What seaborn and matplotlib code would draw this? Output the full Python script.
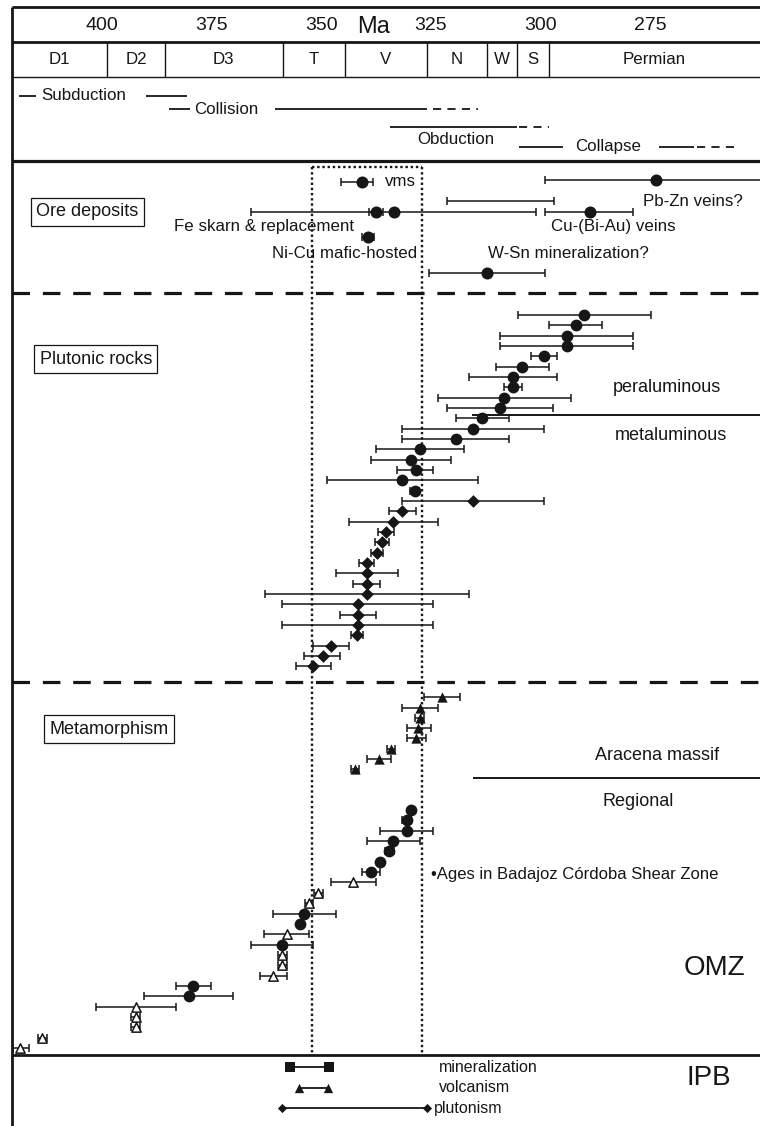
import numpy as np
import pandas as pd
import seaborn as sns
import matplotlib.pyplot as plt

sns.set_theme(style="white")
plt.rcParams['font.family'] = ['Liberation Sans', 'DejaVu Sans']

INK = '#161616'

# ---- header -------------------------------------------------------------
age_ticks = [400, 375, 350, 325, 300, 275]
stage_names = ['D1', 'D2', 'D3', 'T', 'V', 'N', 'W', 'S', 'Permian']
stage_edges = [420.5, 398.9, 385.6, 358.8, 344.6, 325.9, 312.2, 305.3, 298.1, 249.9]

# tectonic events (Ma): solid pieces, dashed tail, label anchor
subduction_solid = [(418.9, 415.1), (390.0, 380.6)]
collision_solid = [(384.7, 379.9), (360.5, 325.9)]
collision_dash = (324.5, 314.2)
obduction_solid = [(334.3, 305.3)]
obduction_dash = (304.9, 298.0)
collapse_solid = [(304.9, 294.8), (272.9, 265.0)]
collapse_dash = (264.3, 254.5)

# ---- ore deposits (age, older bound, younger bound) ----------------------
ore_age = [340.7, 273.6, 309.2, 337.5, 333.3, 288.7, 339.4, 312.2]
ore_old = [345.5, 298.9, 321.4, 339.2, 365.9, 298.9, 340.8, 325.3]
ore_young = [338.2, 240.0, 297.0, 335.8, 300.9, 278.8, 338.0, 298.9]
ore_dot = [True, True, False, True, True, True, True, True]

# ---- plutonic rocks -----------------------------------------------------
pluton_age = [290.0, 291.9, 294.0, 294.0, 299.2, 304.2, 306.2, 306.2, 308.2, 309.2,
              313.3, 315.3, 319.3, 327.5, 329.5, 328.4, 331.5, 328.7,
              315.3, 331.5, 333.6, 335.3, 336.1, 337.3, 339.6, 339.6, 339.6, 339.6,
              341.7, 341.7, 341.7, 341.9, 347.7, 349.7, 351.8]
pluton_old = [305.2, 298.0, 309.3, 309.3, 302.1, 310.2, 316.3, 308.2, 323.3, 321.3,
              319.3, 331.5, 331.5, 337.6, 338.6, 332.6, 348.6, 329.7,
              331.5, 334.5, 343.7, 337.1, 337.8, 338.6, 341.3, 346.6, 342.7, 362.9,
              358.9, 345.7, 358.9, 343.2, 351.8, 353.9, 355.8]
pluton_young = [274.8, 286.0, 278.9, 278.9, 296.1, 298.0, 296.1, 304.2, 293.0, 297.1,
                307.2, 299.1, 307.2, 317.4, 320.4, 324.4, 314.2, 327.7,
                299.2, 328.4, 323.3, 333.3, 334.5, 335.9, 337.9, 332.5, 336.6, 316.3,
                324.4, 337.5, 324.4, 340.4, 343.7, 345.7, 347.7]
pluton_kind = ['peraluminous'] * 18 + ['metaluminous'] * 17

# ---- metamorphism: Aracena massif ---------------------------------------
aracena_age = [322.4, 327.5, 327.5, 327.9, 328.4, 334.1, 336.8, 342.3]
aracena_old = [326.5, 331.5, 328.5, 330.4, 330.4, 335.1, 339.6, 343.3]
aracena_young = [318.3, 323.4, 326.5, 325.0, 326.2, 333.1, 334.1, 341.3]

# ---- metamorphism: regional (circle = Badajoz-Cordoba Shear Zone) -------
regional_age = [329.6, 330.5, 330.5, 333.6, 334.5, 336.6, 338.6, 342.7, 350.7, 352.8,
                353.9, 354.8, 357.9, 358.9, 358.9, 358.9, 360.9, 379.2, 380.2, 392.3,
                392.3, 392.3, 413.6, 418.7]
regional_old = [329.6, 331.5, 336.6, 339.6, 335.5, 336.6, 340.6, 347.8, 351.7, 353.8,
                360.9, 354.8, 363.0, 366.0, 359.9, 359.9, 364.0, 383.2, 390.4, 401.4,
                393.3, 393.3, 414.6, 420.2]
regional_young = [329.6, 329.5, 324.4, 327.5, 333.5, 336.6, 336.6, 337.6, 349.7, 351.8,
                  346.7, 354.8, 352.8, 351.8, 357.9, 357.9, 357.9, 375.1, 370.1, 383.2,
                  391.3, 391.3, 412.6, 416.7]
regional_kind = ['bcsz'] * 7 + ['omz', 'omz', 'omz', 'bcsz', 'bcsz', 'omz', 'bcsz',
                                'omz', 'omz', 'omz', 'bcsz', 'bcsz', 'omz', 'omz', 'omz',
                                'omz', 'omz']

# ---- IPB ----------------------------------------------------------------
ipb_names = ['mineralization', 'volcanism', 'plutonism']
ipb_old = [357.2, 355.0, 359.0]
ipb_young = [348.3, 348.5, 325.9]

dotted_box = (352.2, 327.0)

# ---- layout (pixel rows) -------------------------------------------------
X_LEFT, X_RIGHT = 420.5, 249.9
ore_y = [182, 180, 201, 212, 212, 212, 237, 273]
pluton_y = 315 + 10.33 * np.arange(len(pluton_age))
aracena_y = 697.3 + 10.24 * np.arange(len(aracena_age))
regional_y = 810 + 10.35 * np.arange(len(regional_age))
ipb_y = [1067, 1087.5, 1108]

fig = plt.figure(figsize=(7.6, 11.26), dpi=100)
ax = fig.add_axes([0, 0, 1, 1])
ax.set_xlim(423.27, 249.9)
ax.set_ylim(1126, 0)
ax.axis('off')

FS = 12.2


def bars(age, old, young, y, capsize=3.0):
    age, old, young, y = map(np.asarray, (age, old, young, y))
    keep = old != young
    ax.errorbar(age[keep], y[keep],
                xerr=[age[keep] - young[keep], old[keep] - age[keep]],
                fmt='none', ecolor=INK, elinewidth=1.1, capsize=capsize,
                capthick=1.1, zorder=2)


def dots(age, y, marker, s, fill=INK, lw=0.0):
    df = pd.DataFrame({'age': age, 'y': y})
    sns.scatterplot(data=df, x='age', y='y', marker=marker, s=s, color=fill,
                    edgecolor=INK, linewidth=lw, zorder=3, ax=ax, legend=False)


# frame lines
ax.vlines(X_LEFT, 7, 1126, color=INK, lw=2.0)
ax.hlines([7, 42], X_LEFT, X_RIGHT, color=INK, lw=2.0)
ax.hlines(77, X_LEFT, X_RIGHT, color=INK, lw=1.0)
ax.hlines(161, X_LEFT, X_RIGHT, color=INK, lw=2.3)
ax.hlines(1055, X_LEFT, X_RIGHT, color=INK, lw=2.0)
ax.hlines([293, 682], X_LEFT, X_RIGHT, color=INK, lw=2.3,
          linestyles=(0, (5.5, 4.0)))

# header text
for a in age_ticks:
    ax.text(a, 25, str(a), ha='center', va='center', fontsize=14, color=INK)
ax.text(338.0, 27, 'Ma', ha='center', va='center', fontsize=17, color=INK)
ax.vlines(stage_edges[1:-1], 42, 77, color=INK, lw=1.0)
for name, a, b in zip(stage_names, stage_edges[:-1], stage_edges[1:]):
    ax.text((a + b) / 2, 60, name, ha='center', va='center', fontsize=FS, color=INK)

# tectonic events
def seg(pieces, y, dashed=None):
    for a, b in pieces:
        ax.hlines(y, a, b, color=INK, lw=1.3)
    if dashed is not None:
        ax.hlines(y, dashed[0], dashed[1], color=INK, lw=1.3,
                  linestyles=(0, (4.5, 3.5)))


seg(subduction_solid, 96)
ax.text(413.9, 96, 'Subduction', ha='left', va='center', fontsize=FS, color=INK)
seg(collision_solid, 109, collision_dash)
ax.text(379.0, 109, 'Collision', ha='left', va='center', fontsize=FS, color=INK)
seg(obduction_solid, 127, obduction_dash)
ax.text(319.3, 139, 'Obduction', ha='center', va='center', fontsize=FS, color=INK)
seg(collapse_solid, 147, collapse_dash)
ax.text(292.1, 147, 'Collapse', ha='left', va='center', fontsize=FS, color=INK)

# dotted window
ax.vlines(dotted_box, 167, 1055, color=INK, lw=1.7, linestyles=(0, (1, 1.2)))
ax.hlines(167, dotted_box[0], dotted_box[1], color=INK, lw=1.7,
          linestyles=(0, (1, 1.2)))

# section labels
box = dict(boxstyle='square,pad=0.3', fc='white', ec=INK, lw=0.9)
ax.text(403.4, 212, 'Ore deposits', ha='center', va='center', fontsize=13, color=INK, bbox=box)
ax.text(401.4, 359, 'Plutonic rocks', ha='center', va='center', fontsize=13, color=INK, bbox=box)
ax.text(398.4, 729, 'Metamorphism', ha='center', va='center', fontsize=13, color=INK, bbox=box)

# ore deposits
bars(ore_age, ore_old, ore_young, ore_y)
dots(np.asarray(ore_age)[ore_dot], np.asarray(ore_y)[ore_dot], 'o', 75)
ax.text(335.4, 182, 'vms', ha='left', va='center', fontsize=FS, color=INK)
ax.text(253.8, 201, 'Pb-Zn veins?', ha='right', va='center', fontsize=FS, color=INK)
ax.text(283.3, 227, 'Cu-(Bi-Au) veins', ha='center', va='center', fontsize=FS, color=INK)
ax.text(342.5, 227, 'Fe skarn & replacement', ha='right', va='center', fontsize=FS, color=INK)
ax.text(344.6, 254, 'Ni-Cu mafic-hosted', ha='center', va='center', fontsize=FS, color=INK)
ax.text(293.7, 254, 'W-Sn mineralization?', ha='center', va='center', fontsize=FS, color=INK)

# plutonic rocks
bars(pluton_age, pluton_old, pluton_young, pluton_y)
pk = np.asarray(pluton_kind)
pa = np.asarray(pluton_age)
dots(pa[pk == 'peraluminous'], pluton_y[pk == 'peraluminous'], 'o', 72)
dots(pa[pk == 'metaluminous'], pluton_y[pk == 'metaluminous'], 'D', 42)
ax.hlines(415, 315.6, X_RIGHT, color=INK, lw=1.4)
ax.text(271.1, 387, 'peraluminous', ha='center', va='center', fontsize=13, color=INK)
ax.text(270.2, 435, 'metaluminous', ha='center', va='center', fontsize=13, color=INK)

# metamorphism
bars(aracena_age, aracena_old, aracena_young, aracena_y)
dots(aracena_age, aracena_y, '^', 55)
ax.hlines(778, 315.4, X_RIGHT, color=INK, lw=1.4)
ax.text(273.4, 755, 'Aracena massif', ha='center', va='center', fontsize=13, color=INK)
ax.text(277.7, 802, 'Regional', ha='center', va='center', fontsize=13, color=INK)

bars(regional_age, regional_old, regional_young, regional_y)
rk = np.asarray(regional_kind)
ra = np.asarray(regional_age)
dots(ra[rk == 'bcsz'], regional_y[rk == 'bcsz'], 'o', 72)
dots(ra[rk == 'omz'], regional_y[rk == 'omz'], '^', 45, fill='white', lw=1.1)
ax.text(325.0, 875, '\u2022Ages in Badajoz C\u00f3rdoba Shear Zone', ha='left',
        va='center', fontsize=12, color=INK)
ax.text(260.4, 968, 'OMZ', ha='center', va='center', fontsize=20, color=INK)

# IPB
ipb_marker = ['s', '^', 'D']
ipb_size = [45, 45, 22]
for name, o, yng, y, m, s in zip(ipb_names, ipb_old, ipb_young, ipb_y, ipb_marker, ipb_size):
    ax.hlines(y, o, yng, color=INK, lw=1.3)
    dots([o, yng], [y, y], m, s)
    ax.text(323.1 if m != 'D' else 324.3, y, name, ha='left', va='center',
            fontsize=11.5, color=INK)
ax.text(261.5, 1078, 'IPB', ha='center', va='center', fontsize=20, color=INK)

fig.savefig('out.png', dpi=100)
